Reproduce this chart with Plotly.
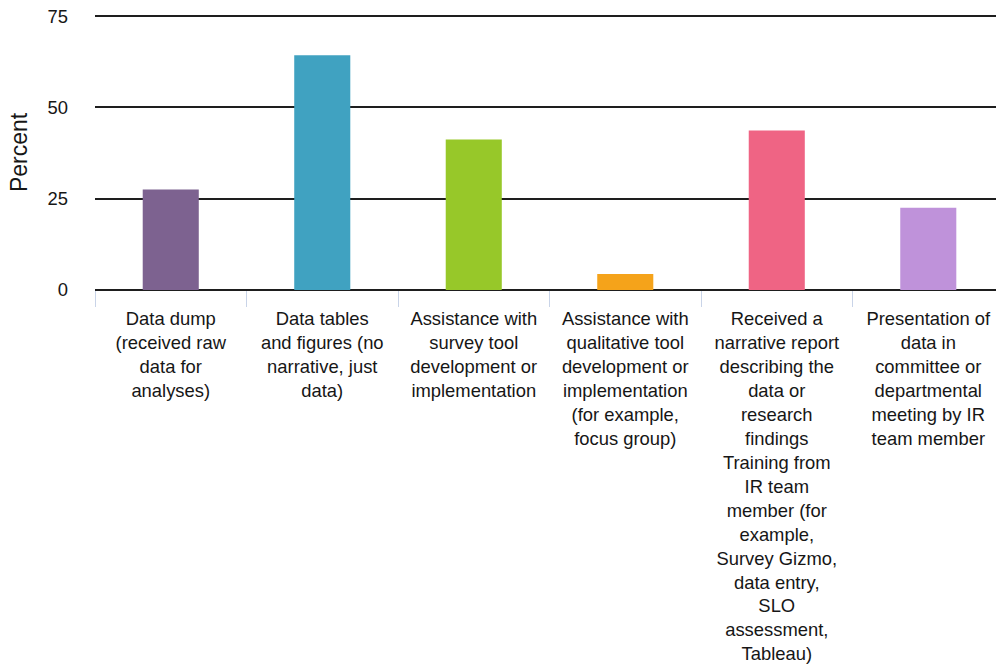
import plotly.graph_objects as go

# Survey categories (multi-line tick labels) and percentage of respondents
categories = [
    "Data dump<br>(received raw<br>data for<br>analyses)",
    "Data tables<br>and figures (no<br>narrative, just<br>data)",
    "Assistance with<br>survey tool<br>development or<br>implementation",
    "Assistance with<br>qualitative tool<br>development or<br>implementation<br>(for example,<br>focus group)",
    "Received a<br>narrative report<br>describing the<br>data or<br>research<br>findings<br>Training from<br>IR team<br>member (for<br>example,<br>Survey Gizmo,<br>data entry,<br>SLO<br>assessment,<br>Tableau)",
    "Presentation of<br>data in<br>committee or<br>departmental<br>meeting by IR<br>team member",
]
percent = [27.5, 64.3, 41.2, 4.4, 43.7, 22.5]
bar_colors = ["#7d6290", "#40a2c1", "#97c829", "#f5a31a", "#ef6484", "#bf92da"]
y_ticks = [0, 25, 50, 75]

FONT = "Liberation Sans, Arial, Helvetica, sans-serif"
TEXT = "#161616"

fig = go.Figure(
    go.Bar(
        x=list(range(len(categories))),
        y=percent,
        marker=dict(color=bar_colors, line=dict(width=0)),
        width=0.37,
        hoverinfo="skip",
    )
)

fig.update_layout(
    width=996,
    height=668,
    margin=dict(l=95, r=0, t=15, b=378),
    paper_bgcolor="white",
    plot_bgcolor="white",
    showlegend=False,
    font=dict(family=FONT, size=18.4, color=TEXT),
)

fig.update_xaxes(
    type="linear",
    tickmode="array",
    tickvals=list(range(len(categories))),
    ticktext=categories,
    range=[-0.5, 5.447],
    showgrid=False,
    zeroline=False,
    showline=False,
    ticks="",
    tickangle=0,
    ticklabelstandoff=16,
    tickfont=dict(family=FONT, size=18.4, color=TEXT),
)

# light separator ticks between categories, via a second overlaid axis
boundaries = [i - 0.5 for i in range(len(categories) + 1)]
fig.update_layout(
    xaxis2=dict(
        overlaying="x",
        matches="x",
        side="bottom",
        tickmode="array",
        tickvals=boundaries,
        ticktext=[""] * len(boundaries),
        ticks="outside",
        ticklen=16,
        tickwidth=1.2,
        tickcolor="#c9d4e8",
        showgrid=False,
        zeroline=False,
        showline=False,
    )
)
fig.add_trace(go.Scatter(x=[0], y=[0], xaxis="x2", mode="markers",
                         marker=dict(opacity=0), hoverinfo="skip", showlegend=False))

fig.update_yaxes(
    range=[0, 75.3],
    tickmode="array",
    tickvals=y_ticks,
    ticktext=[str(v) for v in y_ticks],
    showgrid=True,
    gridcolor="#1e1e1e",
    gridwidth=2,
    zeroline=True,
    zerolinecolor="#1e1e1e",
    zerolinewidth=2,
    showline=False,
    ticks="",
    ticklabelstandoff=26,
    tickfont=dict(family=FONT, size=18.4, color=TEXT),
    title=dict(text="Percent", font=dict(family=FONT, size=23, color=TEXT), standoff=13),
)

fig.write_html("out.html")
